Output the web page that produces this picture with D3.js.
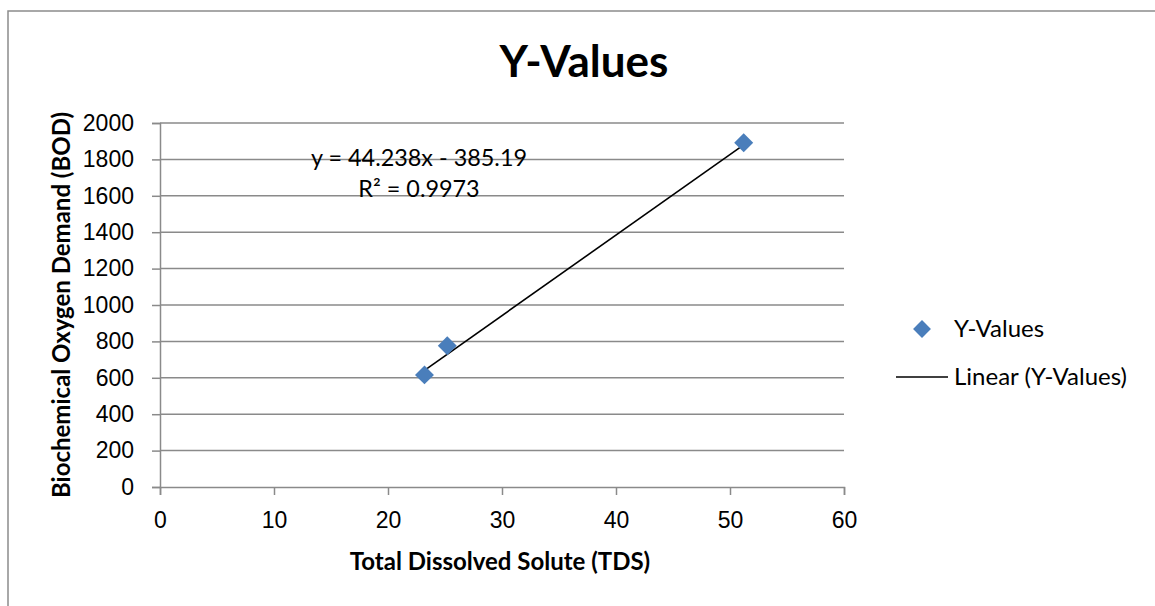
<!DOCTYPE html>
<html>
    <head>
        <script src="https://d3js.org/d3.v7.min.js"></script>
        <style>
            body { margin: 0; background: #fff; }
            svg { display: block; font-family: Lato, "Open Sans", sans-serif; }
        </style>
    </head>
    <body>
        <script>
            // Data
            let tds = [23.2, 25.2, 51.2];
            let bod = [616, 776, 1892];
            let xTicks = [0, 10, 20, 30, 40, 50, 60];
            let yTicks = [0, 200, 400, 600, 800, 1000, 1200, 1400, 1600, 1800, 2000];
            let slope = 44.238, intercept = -385.19;
            let equation = "y = 44.238x - 385.19";
            let rSquared = "R² = 0.9973";

            let svg = d3.select("body").append("svg")
                .attr("width", 1155)
                .attr("height", 606);

            // outer chart border (runs off the right and bottom edges)
            svg.append("rect")
                .attr("x", 8).attr("y", 11)
                .attr("width", 1160).attr("height", 610)
                .attr("fill", "none")
                .attr("stroke", "#8c8c8c")
                .attr("stroke-width", 1.5);

            let x = d3.scaleLinear().domain([0, 60]).range([160, 844]);
            let y = d3.scaleLinear().domain([0, 2000]).range([487, 123]);

            // gridlines
            svg.append("g")
                .selectAll("line")
                .data(yTicks.filter(d => d > 0))
                .join("line")
                .attr("x1", x(0)).attr("x2", x(60))
                .attr("y1", d => y(d)).attr("y2", d => y(d))
                .attr("stroke", "#8a8a8a")
                .attr("stroke-width", 1.5);

            // y axis
            let yAxis = svg.append("g")
                .attr("transform", `translate(${x(0)},0)`)
                .call(d3.axisLeft(y).tickValues(yTicks).tickFormat(d3.format("d")).tickSize(8).tickPadding(18));
            yAxis.selectAll("text").attr("font-size", 23).attr("fill", "#000");

            // x axis
            let xAxis = svg.append("g")
                .attr("transform", `translate(0,${y(0)})`)
                .call(d3.axisBottom(x).tickValues(xTicks).tickSize(8).tickPadding(17));
            xAxis.selectAll("text").attr("font-size", 23).attr("fill", "#000");

            svg.selectAll(".domain, .tick line")
                .attr("stroke", "#8a8a8a")
                .attr("stroke-width", 1.5);

            // trendline
            let x0 = d3.min(tds), x1 = d3.max(tds);
            svg.append("line")
                .attr("x1", x(x0)).attr("y1", y(slope * x0 + intercept))
                .attr("x2", x(x1)).attr("y2", y(slope * x1 + intercept))
                .attr("stroke", "#000")
                .attr("stroke-width", 1.6);

            // points
            let diamond = d3.symbol().type(d3.symbolSquare).size(180);
            svg.append("g")
                .selectAll("path")
                .data(tds)
                .join("path")
                .attr("d", diamond)
                .attr("transform", (d, i) => `translate(${x(d)},${y(bod[i])}) rotate(45)`)
                .attr("fill", "#4a7ebb");

            // equation label
            svg.append("text")
                .attr("x", 419).attr("y", 166)
                .attr("text-anchor", "middle")
                .attr("font-size", 23.4)
                .text(equation);
            svg.append("text")
                .attr("x", 419).attr("y", 197)
                .attr("text-anchor", "middle")
                .attr("font-size", 23.4)
                .text(rSquared);

            // title
            svg.append("text")
                .attr("x", 584).attr("y", 77)
                .attr("text-anchor", "middle")
                .attr("font-size", 44)
                .attr("font-weight", "bold")
                .text("Y-Values");

            // axis titles
            svg.append("text")
                .attr("x", 500).attr("y", 570)
                .attr("text-anchor", "middle")
                .attr("font-size", 24)
                .attr("font-weight", "bold")
                .text("Total Dissolved Solute (TDS)");
            svg.append("text")
                .attr("transform", `translate(70,${(y(0) + y(2000)) / 2}) rotate(-90)`)
                .attr("text-anchor", "middle")
                .attr("font-size", 24)
                .attr("font-weight", "bold")
                .text("Biochemical Oxygen Demand (BOD)");

            // legend
            let legend = svg.append("g");
            legend.append("path")
                .attr("d", d3.symbol().type(d3.symbolSquare).size(160))
                .attr("transform", "translate(922,329) rotate(45)")
                .attr("fill", "#4a7ebb");
            legend.append("text")
                .attr("x", 954).attr("y", 337)
                .attr("font-size", 24)
                .text("Y-Values");
            legend.append("line")
                .attr("x1", 896).attr("x2", 948)
                .attr("y1", 377).attr("y2", 377)
                .attr("stroke", "#000")
                .attr("stroke-width", 1.6);
            legend.append("text")
                .attr("x", 954).attr("y", 385)
                .attr("font-size", 24)
                .text("Linear (Y-Values)");
        </script>
    </body>
</html>
